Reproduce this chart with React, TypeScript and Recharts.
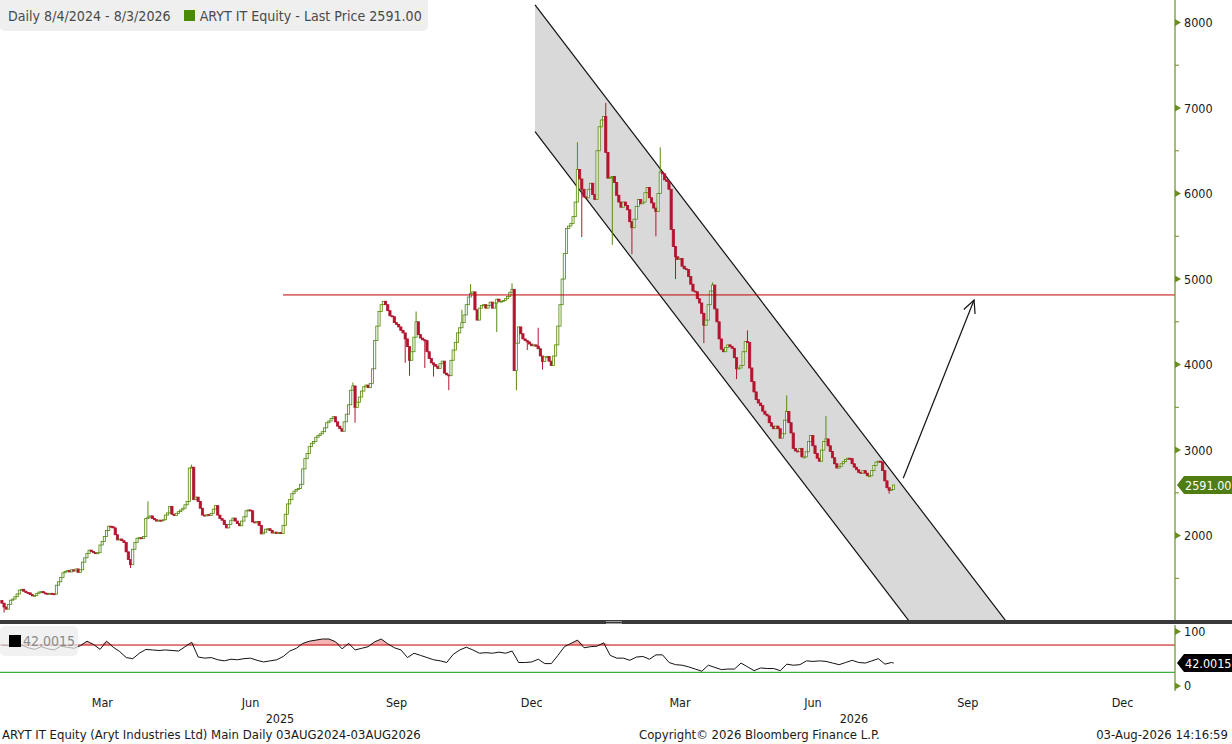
import React from 'react'
import {
	Area,
	Bar,
	ComposedChart,
	Line,
	ReferenceLine,
	XAxis,
	YAxis
} from 'recharts'

// daily closes (trading days, oldest first)
const closes = [
	1210, 1165, 1140, 1195, 1245, 1258, 1285, 1318, 1362, 1372,
	1350, 1335, 1330, 1310, 1295, 1300, 1325, 1340, 1345, 1330,
	1325, 1318, 1325, 1320, 1315, 1420, 1460, 1510, 1565, 1580,
	1590, 1575, 1600, 1585, 1610, 1570, 1600, 1690, 1740, 1790,
	1830, 1815, 1800, 1790, 1800, 1890, 1930, 1990, 2060, 2110,
	2105, 2090, 2010, 1950, 1960, 1940, 1920, 1810, 1720, 1660,
	1840, 1920, 1970, 1975, 1965, 1990, 2200, 2215, 2230, 2200,
	2185, 2170, 2180, 2175, 2185, 2240, 2265, 2340, 2250, 2235,
	2260, 2280, 2300, 2320, 2360, 2400, 2790, 2800, 2420, 2450,
	2400, 2320, 2240, 2230, 2245, 2235, 2260, 2310, 2350, 2240,
	2200, 2180, 2130, 2090, 2130, 2180, 2205, 2170, 2140, 2115,
	2170, 2220, 2290, 2300, 2290, 2160, 2150, 2165, 2120, 2020,
	2040, 2075, 2080, 2060, 2030, 2040, 2025, 2035, 2025, 2120,
	2250, 2370, 2420, 2490, 2520, 2540, 2550, 2600, 2780, 2900,
	2960, 3040, 3080, 3100, 3150, 3170, 3190, 3215, 3260, 3320,
	3340, 3370, 3390, 3330, 3280, 3250, 3220, 3330, 3420, 3530,
	3700, 3750, 3500, 3560, 3620, 3690, 3740, 3760, 3730, 3780,
	3950, 4280, 4450, 4620, 4700, 4740, 4700, 4630, 4570, 4560,
	4490, 4470, 4440, 4400, 4370, 4300, 4210, 4050, 4150, 4320,
	4500, 4350, 4310, 4290, 4280, 4150, 4070, 4020, 4000, 3980,
	3955, 4010, 4040, 3900, 3880, 3870, 4050, 4170, 4260, 4370,
	4430, 4490, 4580, 4700, 4790, 4830, 4850, 4640, 4520, 4660,
	4690, 4700, 4660, 4690, 4730, 4660, 4720, 4765, 4740, 4740,
	4750, 4770, 4795, 4845, 4880, 3930, 4250, 4440, 4360, 4300,
	4280, 4265, 4240, 4220, 4230, 4215, 4185, 4100, 4035, 4090,
	4095, 4040, 3990, 4100, 4230, 4450, 4700, 5000, 5300, 5590,
	5620, 5650, 5730, 5900, 6280, 6170, 6050, 5960, 5950, 6050,
	6120, 5990, 5930, 6500, 6780, 6860, 6900, 6480, 6180, 6190,
	6200, 6130, 5980, 5900, 5840, 5900, 5860, 5810, 5670, 5600,
	5700, 5850, 5930, 5880, 5900, 6010, 6070, 5950, 5890, 5830,
	5790, 6000, 6250, 6230, 6160, 6140, 6050, 5580, 5380, 5260,
	5230, 5240, 5150, 5120, 5110, 5030, 4940, 4860, 4850, 4770,
	4720, 4600, 4460, 4520, 4700, 4860, 4930, 4650, 4500, 4300,
	4180, 4150, 4200, 4230, 4210, 4190, 4080, 3950, 3960, 3990,
	4150, 4270, 4260, 3960, 3800, 3680, 3590, 3550, 3520, 3455,
	3420, 3400, 3320, 3280, 3250, 3280, 3250, 3140, 3190, 3350,
	3450, 3320, 3200, 3020, 2990, 2985, 3020, 2920, 2920, 2980,
	3100, 3170, 3050, 2960, 2905, 2870, 3000, 3100, 3130, 3050,
	2985, 2910, 2840, 2790, 2810, 2840, 2865, 2890, 2905, 2900,
	2840, 2800, 2770, 2740, 2730, 2760, 2730, 2700, 2700, 2760,
	2820, 2860, 2870, 2860, 2760, 2640, 2560, 2530, 2540, 2591
]
const firstOpen = 1240

// visible wick extremes [day index, price]
const wickHighs = [
	[67, 2400], [87, 2830], [161, 3790], [190, 4620], [211, 4640], [215, 4940],
	[234, 4950], [246, 4430], [264, 6600], [277, 7060], [302, 6540], [326, 4960],
	[342, 4400], [360, 3640], [378, 3400]
]
const wickLows = [
	[1, 1100], [59, 1620], [162, 3320], [185, 4020], [187, 3870], [194, 3960],
	[198, 3860], [205, 3700], [227, 4380], [236, 3700], [241, 4170], [248, 3940],
	[266, 5490], [280, 5400], [289, 5290], [300, 5500], [309, 5000], [322, 4250],
	[337, 3830], [407, 2490]
]

// RSI sampled every 3rd trading day
const rsiStep = 3
const rsiValues = [
	75, 74, 73, 75, 70, 67, 72, 68, 66, 73,
	71, 69, 74, 82, 76, 67, 82, 71, 63, 52,
	50, 60, 67, 66, 65, 66, 65, 64, 72, 80,
	53, 51, 52, 48, 46, 49, 48, 50, 51, 47,
	44, 46, 48, 54, 64, 69, 78, 82, 84, 86,
	86, 81, 68, 78, 66, 69, 72, 81, 86, 77,
	70, 66, 52, 60, 56, 52, 48, 46, 43, 58,
	66, 71, 66, 60, 61, 60, 62, 60, 64, 43,
	43, 44, 49, 41, 41, 56, 72, 78, 84, 70,
	72, 73, 79, 56, 51, 51, 47, 53, 54, 49,
	57, 57, 43, 39, 38, 35, 31, 27, 38, 34,
	30, 31, 31, 42, 35, 28, 33, 32, 32, 28,
	40, 38, 39, 46, 45, 46, 45, 42, 39, 43,
	47, 43, 42, 46, 50, 40, 43
]
const lastRsi = 42.0015
const lastPrice = 2591.0
const rsiUpper = 75
const rsiLower = 25

// trend channel and annotations (day index / price)
const channelIdx = [244.5, 480]
const channelUpper = [8205, 351]
const channelLower = [6723, -1131]
const resistance = 4814
const resistanceFrom = 128.9
const arrowFrom = { x: 413.4, y: 2670 }
const arrowTo = { x: 445.9, y: 4755 }

const monthTicks = [46, 114, 181, 243, 311, 372, 443, 514]
const monthLabels = ['Mar', 'Jun', 'Sep', 'Dec', 'Mar', 'Jun', 'Sep', 'Dec']
const yearTicks = [127.5, 390.8]
const yearLabels = ['2025', '2026']
const priceTicks = [1500, 2000, 2500, 3000, 3500, 4000, 4500, 5000, 5500, 6000, 6500, 7000, 7500, 8000]
const rsiTicks = [0, 100]

const X_DOMAIN = [-0.92, 538.07]
const PRICE_DOMAIN = [1013, 8263]
const RSI_DOMAIN = [-9.2, 111.7]

const FONT = "'DejaVu Sans Condensed', 'Liberation Sans', sans-serif"
const UP = '#578a10'
const DOWN = '#b3142f'
const AXIS = '#6a8f1f'
const RED = '#c00000'

const candleData = closes.map((c, i) => {
	const o = i === 0 ? firstOpen : closes[i - 1]
	const hi = wickHighs.find((w) => w[0] === i)
	const lo = wickLows.find((w) => w[0] === i)
	const high = Math.max(o, c, hi ? hi[1] : -Infinity)
	const low = Math.min(o, c, lo ? lo[1] : Infinity)
	return { x: i, open: o, close: c, range: [low, high] }
})

const channelData = channelIdx.map((x, j) => ({ x, band: [channelLower[j], channelUpper[j]] }))

const rsiData = rsiValues.map((v, k) => ({ x: k * rsiStep, rsi: v }))
rsiData.push({ x: closes.length - 1, rsi: lastRsi })
const rsiRows = rsiData.map((d) => ({ ...d, over: [rsiUpper, Math.max(d.rsi, rsiUpper)] }))

function Candle(props: any) {
	const { x, y, width, height, payload } = props
	if (payload == null || x == null || y == null) return null
	const [low, high] = payload.range
	const up = payload.close >= payload.open
	const color = up ? UP : DOWN
	const cx = x + width / 2
	const ppu = high > low ? height / (high - low) : 0
	const yo = y + (high - payload.open) * ppu
	const yc = y + (high - payload.close) * ppu
	const top = Math.min(yo, yc)
	const bh = Math.max(Math.abs(yo - yc), 1)
	return (
		<g>
			<line x1={cx} x2={cx} y1={y} y2={y + height} stroke={color} strokeWidth={1} />
			<rect
				x={cx - 1.1}
				y={top}
				width={2.2}
				height={bh}
				fill={up ? '#f4f8ee' : color}
				stroke={color}
				strokeWidth={0.8}
			/>
		</g>
	)
}

function PriceTick(props: any) {
	const { x, y, payload } = props
	const v = payload.value
	if (v % 1000 !== 0) {
		return <line x1={x} x2={x + 4} y1={y} y2={y} stroke={AXIS} strokeWidth={1} />
	}
	return (
		<g>
			<path d={`M${x},${y - 3.5}L${x + 6},${y}L${x},${y + 3.5}Z`} fill={AXIS} />
			<text x={x + 9} y={y} dy="0.36em" fontSize={12.5} fontFamily={FONT} fill="#1a1a1a">
				{v}
			</text>
		</g>
	)
}

function RsiTick(props: any) {
	const { x, y, payload } = props
	return (
		<g>
			<path d={`M${x},${y - 3.5}L${x + 6},${y}L${x},${y + 3.5}Z`} fill={AXIS} />
			<text x={x + 9} y={y} dy="0.36em" fontSize={12.5} fontFamily={FONT} fill="#1a1a1a">
				{payload.value}
			</text>
		</g>
	)
}

function TimeTick(props: any) {
	const { x, y, payload } = props
	const yi = yearTicks.indexOf(payload.value)
	if (yi >= 0) {
		return (
			<text x={x} y={y + 27} dy="0.36em" textAnchor="middle" fontSize={12.5} fontFamily={FONT} fill="#1a1a1a">
				{yearLabels[yi]}
			</text>
		)
	}
	const mi = monthTicks.indexOf(payload.value)
	return (
		<text x={x} y={y + 11} dy="0.36em" textAnchor="middle" fontSize={12.5} fontFamily={FONT} fill="#1a1a1a">
			{monthLabels[mi]}
		</text>
	)
}

function Tag(props: any) {
	const { x1, x2, y1, fill, label } = props
	const xr = Math.max(x1, x2)
	const y = y1
	return (
		<g>
			<path
				d={`M${xr + 2},${y}L${xr + 9},${y - 9}L1232,${y - 9}L1232,${y + 9}L${xr + 9},${y + 9}Z`}
				fill={fill}
			/>
			<text x={xr + 10} y={y} dy="0.36em" fontSize={12.5} fontFamily={FONT} fill="#ffffff">
				{label}
			</text>
		</g>
	)
}

function Arrow(props: any) {
	const { x1, y1, x2, y2 } = props
	if (x1 == null) return null
	const tip = y1 < y2 ? { x: x1, y: y1 } : { x: x2, y: y2 }
	const tail = y1 < y2 ? { x: x2, y: y2 } : { x: x1, y: y1 }
	const ang = Math.atan2(tail.y - tip.y, tail.x - tip.x)
	const len = 14
	const spread = 0.45
	const w1 = { x: tip.x + len * Math.cos(ang + spread), y: tip.y + len * Math.sin(ang + spread) }
	const w2 = { x: tip.x + len * Math.cos(ang - spread), y: tip.y + len * Math.sin(ang - spread) }
	return (
		<g stroke="#111" strokeWidth={1.2} fill="none">
			<line x1={tail.x} y1={tail.y} x2={tip.x} y2={tip.y} />
			<polyline points={`${w1.x},${w1.y} ${tip.x},${tip.y} ${w2.x},${w2.y}`} />
		</g>
	)
}

export default function App() {
	return (
		<div
			style={{
				position: 'absolute',
				left: 0,
				top: 0,
				width: 1232,
				height: 744,
				background: '#ffffff',
				overflow: 'hidden',
				fontFamily: FONT
			}}
		>
			{/* channel layer */}
			<div style={{ position: 'absolute', left: 0, top: 0 }}>
				<ComposedChart
					width={1232}
					height={620}
					data={channelData}
					margin={{ top: 0, right: 57, bottom: 0, left: 0 }}
				>
					<XAxis dataKey="x" type="number" domain={X_DOMAIN} allowDataOverflow hide />
					<YAxis type="number" domain={PRICE_DOMAIN} allowDataOverflow hide />
					<Area
						type="linear"
						dataKey="band"
						fill="#d9d9d9"
						fillOpacity={1}
						stroke="#111"
						strokeWidth={1.2}
						isAnimationActive={false}
					/>
				</ComposedChart>
			</div>

			{/* price layer */}
			<div style={{ position: 'absolute', left: 0, top: 0 }}>
				<ComposedChart
					width={1232}
					height={620}
					data={candleData}
					margin={{ top: 0, right: 0, bottom: 0, left: 0 }}
				>
					<XAxis dataKey="x" type="number" domain={X_DOMAIN} allowDataOverflow hide />
					<YAxis
						type="number"
						orientation="right"
						width={57}
						domain={PRICE_DOMAIN}
						allowDataOverflow
						ticks={priceTicks}
						interval={0}
						tickSize={0}
						tickMargin={0}
						tickLine={false}
						axisLine={{ stroke: AXIS, strokeWidth: 1.2 }}
						tick={<PriceTick />}
					/>
					<ReferenceLine
						segment={[
							{ x: resistanceFrom, y: resistance },
							{ x: X_DOMAIN[1], y: resistance }
						]}
						stroke={RED}
						strokeWidth={1}
					/>
					<Bar
						dataKey="range"
						barSize={3}
						isAnimationActive={false}
						shape={(p: any) => <Candle {...p} />}
					/>
					<ReferenceLine segment={[arrowFrom, arrowTo]} shape={(p: any) => <Arrow {...p} />} />
					<ReferenceLine
						y={lastPrice}
						shape={(p: any) => (
							<Tag {...p} fill="#4f7d12" label={lastPrice.toFixed(2)} />
						)}
					/>
				</ComposedChart>
			</div>

			{/* legend */}
			<div
				style={{
					position: 'absolute',
					left: 0,
					top: 0,
					width: 428,
					height: 31,
					background: '#efefef',
					borderRadius: '0 0 5px 5px',
					fontSize: 14.1,
					color: '#4a4a4a',
					display: 'flex',
					alignItems: 'center',
					whiteSpace: 'nowrap'
				}}
			>
				<span style={{ marginLeft: 8 }}>Daily 8/4/2024 - 8/3/2026</span>
				<span
					style={{
						display: 'inline-block',
						width: 11,
						height: 11,
						background: '#4a8a06',
						marginLeft: 13,
						marginRight: 5
					}}
				/>
				<span>ARYT IT Equity - Last Price 2591.00</span>
			</div>

			{/* panel separator */}
			<div style={{ position: 'absolute', left: 0, top: 620, width: 1232, height: 4, background: '#3a3a3a' }} />
			<div style={{ position: 'absolute', left: 606, top: 621, width: 16, height: 1, background: '#9a9a9a' }} />
			<div style={{ position: 'absolute', left: 606, top: 623, width: 16, height: 1, background: '#9a9a9a' }} />

			{/* RSI layer */}
			<div style={{ position: 'absolute', left: 0, top: 625 }}>
				<ComposedChart
					width={1232}
					height={100}
					data={rsiRows}
					margin={{ top: 0, right: 0, bottom: 0, left: 0 }}
				>
					<XAxis
						dataKey="x"
						type="number"
						domain={X_DOMAIN}
						allowDataOverflow
						height={34}
						ticks={[...monthTicks, ...yearTicks]}
						interval={0}
						tickSize={0}
						tickMargin={0}
						tickLine={false}
						axisLine={false}
						tick={<TimeTick />}
					/>
					<YAxis
						type="number"
						orientation="right"
						width={57}
						domain={RSI_DOMAIN}
						allowDataOverflow
						ticks={rsiTicks}
						interval={0}
						tickSize={0}
						tickMargin={0}
						tickLine={false}
						axisLine={{ stroke: AXIS, strokeWidth: 1.2 }}
						tick={<RsiTick />}
					/>
					<Area
						type="linear"
						dataKey="over"
						fill="#f6b3b3"
						fillOpacity={1}
						stroke="none"
						isAnimationActive={false}
					/>
					<ReferenceLine y={rsiUpper} stroke={RED} strokeWidth={1} />
					<ReferenceLine y={rsiLower} stroke="#3cb043" strokeWidth={1.2} />
					<Line
						type="linear"
						dataKey="rsi"
						stroke="#111"
						strokeWidth={1}
						dot={false}
						isAnimationActive={false}
					/>
					<ReferenceLine
						y={lastRsi}
						shape={(p: any) => <Tag {...p} fill="#000000" label={lastRsi.toFixed(4)} />}
					/>
				</ComposedChart>
			</div>

			{/* RSI legend */}
			<div
				style={{
					position: 'absolute',
					left: 0,
					top: 626,
					width: 78,
					height: 30,
					background: 'rgba(236,236,236,0.72)',
					borderRadius: 5,
					fontSize: 14,
					color: '#8a8a8a',
					display: 'flex',
					alignItems: 'center',
					whiteSpace: 'nowrap'
				}}
			>
				<span
					style={{ display: 'inline-block', width: 12, height: 12, background: '#000', marginLeft: 9, marginRight: 2 }}
				/>
				<span>42.0015</span>
			</div>

			{/* footer */}
			<div style={{ position: 'absolute', left: 2, top: 727, fontSize: 13, color: '#1a1a1a', whiteSpace: 'nowrap' }}>
				ARYT IT Equity (Aryt Industries Ltd) Main Daily 03AUG2024-03AUG2026
			</div>
			<div style={{ position: 'absolute', left: 639, top: 727, fontSize: 13, color: '#1a1a1a', whiteSpace: 'nowrap' }}>
				Copyright© 2026 Bloomberg Finance L.P.
			</div>
			<div style={{ position: 'absolute', right: 4, top: 727, fontSize: 13, color: '#1a1a1a', whiteSpace: 'nowrap' }}>
				03-Aug-2026 14:16:59
			</div>
		</div>
	)
}
